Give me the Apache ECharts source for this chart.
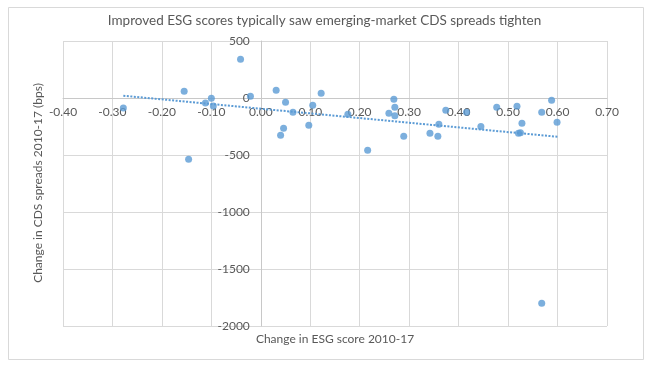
<!DOCTYPE html>
<html>
<head>
<meta charset="utf-8">
<script src="https://cdn.jsdelivr.net/npm/echarts@6/dist/echarts.min.js"></script>
<style>
  html, body { margin: 0; padding: 0; background: #fff; }
  #chart { width: 649px; height: 367px; }
</style>
</head>
<body>
<div id="chart"></div>
<script>
// Change in ESG score 2010-17 (x) and change in CDS spreads 2010-17 in bps (y)
var esgChange = [-0.278, -0.155, -0.146, -0.112, -0.100, -0.096, -0.041, -0.021, 0.031, 0.050,
                 0.040, 0.046, 0.065, 0.097, 0.105, 0.122, 0.176, 0.216, 0.259, 0.269,
                 0.271, 0.271, 0.289, 0.342, 0.358, 0.360, 0.374, 0.416, 0.445, 0.477,
                 0.518, 0.521, 0.525, 0.528, 0.568, 0.588, 0.599, 0.568];
var cdsChange = [-88, 59, -538, -44, -3, -70, 339, 15, 68, -38,
                 -327, -266, -126, -240, -64, 41, -143, -459, -134, -11,
                 -82, -155, -336, -310, -336, -231, -108, -126, -249, -82,
                 -73, -310, -305, -222, -126, -20, -213, -1801];
// Linear trendline endpoints
var trendX = [-0.278, 0.600];
var trendY = [20, -340];
// Axis ticks
var xTicks = { min: -0.4, max: 0.7, interval: 0.1 };
var yTicks = { min: -2000, max: 500, interval: 500 };

var FONT = 'Lato';
var TXT = '#595959';
var GRID = '#d9d9d9';
var AXIS = '#c8c8c8';
var BLUE = '#5B9BD5';

var points = esgChange.map(function (x, i) { return [x, cdsChange[i]]; });
var trend = trendX.map(function (x, i) { return [x, trendY[i]]; });

var chart = echarts.init(document.getElementById('chart'), null, { renderer: 'canvas' });
chart.setOption({
  backgroundColor: '#fff',
  animation: false,
  title: {
    text: 'Improved ESG scores typically saw emerging-market CDS spreads tighten',
    left: 'center', top: 9,
    textStyle: { fontFamily: FONT, fontSize: 13.5, fontWeight: 'normal', color: TXT }
  },
  grid: { left: 63, right: 42, top: 41, bottom: 41, containLabel: false },
  xAxis: {
    type: 'value', min: xTicks.min, max: xTicks.max, interval: xTicks.interval,
    position: 'bottom', offset: 0,
    axisLine: { show: true, onZero: false, lineStyle: { color: AXIS, width: 1 } },
    axisTick: { show: false },
    axisLabel: { color: TXT, fontFamily: FONT, fontSize: 12, margin: 8,
      formatter: function (v) { return v.toFixed(2); } },
    splitLine: { show: true, lineStyle: { color: GRID, width: 1 } }
  },
  yAxis: {
    type: 'value', min: yTicks.min, max: yTicks.max, interval: yTicks.interval,
    position: 'left', offset: 0,
    axisLine: { show: true, onZero: false, lineStyle: { color: AXIS, width: 1 } },
    axisTick: { show: false },
    axisLabel: { color: TXT, fontFamily: FONT, fontSize: 12, margin: 11,
      formatter: function (v) { return String(v); } },
    splitLine: { show: true, lineStyle: { color: GRID, width: 1 } }
  },
  graphic: [
    { type: 'rect', left: 6, top: 5, z: -10, silent: true,
      shape: { width: 635, height: 352 },
      style: { fill: 'none', stroke: GRID, lineWidth: 1 } },
    { type: 'text', x: 335, y: 339, silent: true,
      style: { text: 'Change in ESG score 2010-17', fontFamily: FONT, fontSize: 12,
               fill: TXT, align: 'center', verticalAlign: 'middle' } },
    { type: 'text', x: 38, y: 183, rotation: Math.PI / 2, silent: true,
      style: { text: 'Change in CDS spreads 2010-17 (bps)', fontFamily: FONT, fontSize: 12,
               fill: TXT, align: 'center', verticalAlign: 'middle' } }
  ],
  series: [
    { type: 'scatter', data: points, symbolSize: 7, itemStyle: { color: BLUE }, z: 3 },
    { type: 'line', data: trend, symbol: 'none', z: 4,
      lineStyle: { color: BLUE, width: 2, type: [2, 1.5] } }
  ]
});

// Move the axes so they cross at the origin (0, 0), using the library's own scales.
var origin = chart.convertToPixel({ gridIndex: 0 }, [0, 0]);
var bottomEdge = chart.convertToPixel({ gridIndex: 0 }, [0, yTicks.min]);
var leftEdge = chart.convertToPixel({ gridIndex: 0 }, [xTicks.min, 0]);
chart.setOption({
  xAxis: { offset: -(bottomEdge[1] - origin[1]) },
  yAxis: { offset: -(origin[0] - leftEdge[0]) }
});
</script>
</body>
</html>
